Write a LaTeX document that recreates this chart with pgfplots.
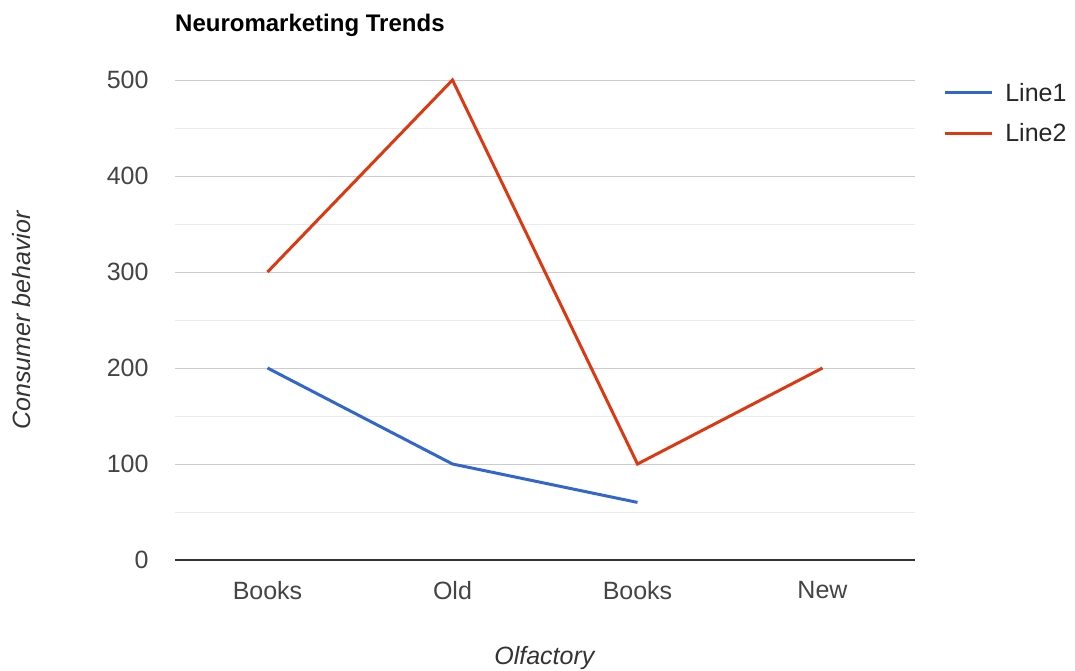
\documentclass[border=0pt]{standalone}
\usepackage{pgfplots}
\pgfplotsset{compat=1.18}
\usepackage{fontspec}
\setmainfont{Liberation Sans}
\definecolor{gblue}{HTML}{3366CC}
\definecolor{gred}{HTML}{DC3912}
\definecolor{ticktext}{HTML}{444444}
\definecolor{majgrid}{HTML}{CCCCCC}
\definecolor{mingrid}{HTML}{EBEBEB}
\begin{document}
\begin{tikzpicture}[x=1pt,y=1pt]
\begin{axis}[
  scale only axis, width=740pt, height=480pt,
  xmin=-0.5, xmax=3.5, ymin=0, ymax=500,
  xtick={0,1,2,3}, xticklabels={Books,Old,Books,New},
  ytick={0,100,200,300,400,500},
  minor y tick num=1,
  ymajorgrids, yminorgrids,
  major grid style={majgrid, line width=1pt},
  minor grid style={mingrid, line width=1pt},
  axis x line*=bottom, axis y line*=left,
  y axis line style={draw=none},
  x axis line style={draw=black!80, line width=1.6pt, -},
  major tick length=0pt, minor tick length=0pt,
  tick style={draw=none},
  /pgf/number format/assume math mode=true,
  tick label style={font=\fontsize{25}{30}\selectfont, text=ticktext},
  yticklabel style={xshift=-23pt},
  xticklabel style={yshift=-18pt},
  title={\textbf{Neuromarketing Trends}},
  title style={at={(rel axis cs:0,1.102)}, anchor=west, font=\fontsize{24}{28}\selectfont, text=black, inner sep=0pt},
  xlabel={\textit{Olfactory}},
  xlabel style={at={(rel axis cs:0.5,-0.205)}, anchor=center, font=\fontsize{25}{30}\selectfont, text=black!80, inner sep=0pt},
  ylabel={\textit{Consumer behavior}},
  ylabel style={at={(rel axis cs:-0.2068,0.5)}, anchor=center, font=\fontsize{25}{30}\selectfont, text=black!80, inner sep=0pt},
  legend style={at={(rel axis cs:1.038,0.998)}, anchor=north west, draw=none, fill=none,
    font=\fontsize{25}{30}\selectfont, text=black!85, row sep=17pt, inner sep=0pt,
    /tikz/every even column/.append style={column sep=0pt}},
  legend cell align=left,
  legend image code/.code={\draw[#1, line width=3pt] (0pt,0pt) -- (47pt,0pt); \path (57pt,0pt);},
  clip=false,
]
\coordinate (bl) at (rel axis cs:0,0);
\addplot[gblue, line width=3pt] coordinates {(0,200) (1,100) (2,60)};
\addlegendentry{Line1}
\addplot[gred, line width=3pt] coordinates {(0,300) (1,500) (2,100) (3,200)};
\addlegendentry{Line2}
\end{axis}
\pgfresetboundingbox
\path[use as bounding box, shift={(bl)}] (-175,-110) rectangle (900,560);
\end{tikzpicture}
\end{document}
